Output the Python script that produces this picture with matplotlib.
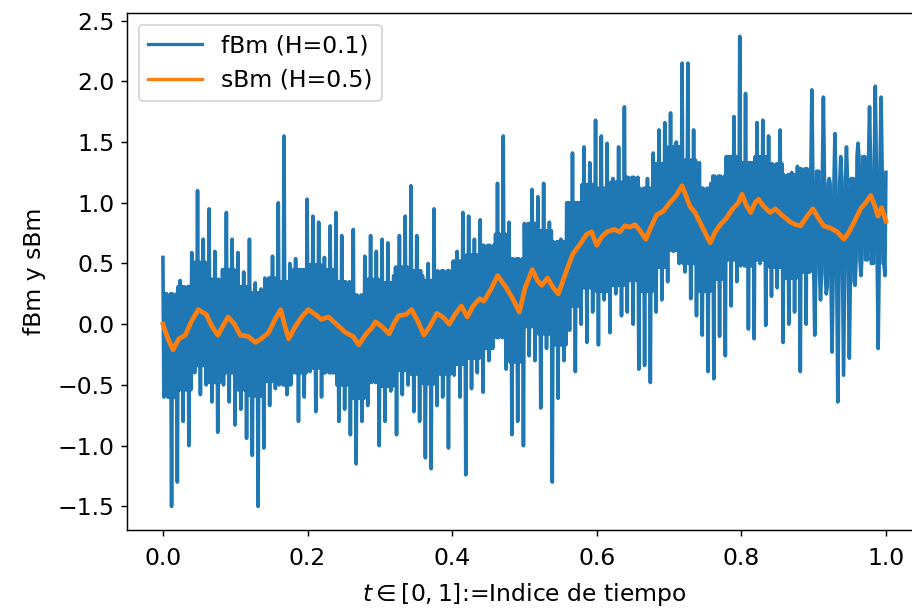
import numpy as np
import matplotlib
matplotlib.use('Agg')
import matplotlib.pyplot as plt


# fBm (H=0.1): spike extremes, alternating up / down, on a uniform grid over [0, 1]
fbm_spikes = [
    0.55, -0.5, 0.2, -1.5, 0.1, -1.3, 0.36, -0.8, 0.3, -1.0,
    0.59, -0.4, 1.1, -0.58, 0.7, -0.5, 0.95, -0.64, 0.6, -0.89,
    0.34, -0.5, 0.92, -0.64, 0.7,
    -0.83, 0.59, -0.7, 0.43, -0.94, 0.7, -1.08, 0.34, -1.5, 0.29,
    -1.02, 0.3, -0.67, 0.56, -0.53, 1.0, -0.4, 1.55, -0.58, 0.5,
    -0.26, 0.54, -0.8, 0.45, -0.6,
    1.03, -0.39, 0.89, -0.72, 0.84, -0.6, 0.55, -0.28, 0.81, -0.4,
    0.92, -0.8, 0.73, -0.7, 0.3, -0.91, 0.78, -1.15, 0.21, -0.8,
    0.56, -0.67, 0.73, -0.42, 0.6,
    -1.0, 0.7, -0.8, 0.67, -0.55, 0.4, -0.91, 0.73, -0.58, 0.89,
    -0.5, 1.14, -0.72, 0.73, -0.8, 0.4, -1.1, 0.5, -1.19, 0.95,
    -0.67, 0.4, -0.6, 0.35, -1.02,
    0.4, -0.42, 0.6, -0.6, 0.92, -1.24, 0.89, -0.53, 0.7, -0.4,
    0.86, -0.56, 0.6, -0.3, 0.5, -0.1, 1.16, 0.02, 1.55, -0.37,
    0.84, -0.91, 0.48, -0.8, 0.43,
    -1.0, 0.4, -0.26, 1.11, -0.3, 1.05, -0.69, 1.16, -0.2, 0.84,
    -1.3, 0.56, -0.61, 0.7, -0.3, 1.0, -0.05, 1.41, -0.39, 1.0,
    0.0, 1.46, -0.15, 1.33, 0.1,
    1.68, -0.17, 1.55, 0.2, 1.49, -0.07, 1.2, 0.25, 1.46, 0.07,
    1.79, 0.1, 1.19, 0.0, 1.0, -0.37, 1.1, -0.34, 1.2, -0.48,
    1.41, 0.1, 1.6, 0.2, 1.66,
    0.35, 1.74, 0.6, 1.5, 0.5, 2.15, 0.43, 2.15, 0.21, 1.6,
    0.07, 1.33, -0.09, 0.95, -0.39, 1.16, -0.45, 0.9, -0.1, 1.19,
    -0.26, 1.38, 0.15, 1.71, 0.35,
    2.37, 0.5, 1.9, -0.04, 1.33, -0.12, 1.66, 0.5, 1.68, -0.01,
    1.55, 0.23, 1.27, 0.3, 1.6, -0.15, 1.2, 0.0, 1.25, 0.1,
    1.3, -0.39, 1.2, 0.0, 1.0,
    1.93, -0.09, 1.2, 0.2, 1.87, 0.25, 1.2, -0.23, 1.57, -0.64,
    1.38, -0.42, 1.46, -0.28, 1.1, 0.32, 1.49, 0.4, 1.2, 0.59,
    1.79, 0.6, 1.96, -0.2, 1.87, 0.5,
]

# fBm dense core: upper / lower edge per block of 5 spikes (t step 0.02)
core_hi = [
    0.25, 0.31, 0.51, 0.37, 0.45, 0.31, 0.26, 0.38, 0.35, 0.45,
    0.49, 0.45, 0.35, 0.24, 0.37, 0.34, 0.47, 0.44, 0.36, 0.44,
    0.52, 0.57, 0.65, 0.74, 0.54, 0.83, 0.77, 0.68, 1.0, 1.15,
    1.12, 1.17, 1.21, 1.12, 1.32, 1.46, 1.35, 1.12, 1.22, 1.38,
    1.33, 1.38, 1.32, 1.23, 1.28, 1.26, 1.16, 1.2, 1.38, 1.35, 1.25,
]
core_lo = [
    -0.6, -0.54, -0.34, -0.48, -0.4, -0.54, -0.59, -0.47, -0.5, -0.4,
    -0.36, -0.4, -0.5, -0.61, -0.48, -0.51, -0.38, -0.41, -0.49, -0.41,
    -0.33, -0.28, -0.2, -0.11, -0.31, -0.02, -0.08, -0.17, 0.15, 0.3,
    0.27, 0.32, 0.36, 0.27, 0.47, 0.61, 0.5, 0.27, 0.37, 0.53,
    0.48, 0.53, 0.47, 0.38, 0.43, 0.41, 0.31, 0.35, 0.53, 0.5, 0.4,
]

# sBm path (H=0.5)
t_sbm = [
    0.000, 0.007, 0.014, 0.022, 0.031, 0.039, 0.049, 0.060, 0.068, 0.076,
    0.090, 0.099, 0.107, 0.118, 0.128, 0.136, 0.146, 0.156, 0.163, 0.168,
    0.174, 0.183, 0.192, 0.201, 0.211, 0.219, 0.229, 0.240, 0.253, 0.263,
    0.271, 0.281, 0.289, 0.294, 0.303, 0.313, 0.319, 0.326, 0.336, 0.344,
    0.353, 0.361, 0.369, 0.379, 0.389, 0.396, 0.404, 0.413, 0.421, 0.429,
    0.438, 0.444, 0.453, 0.463, 0.469, 0.475, 0.483, 0.493, 0.501, 0.511,
    0.518, 0.524, 0.532, 0.540, 0.547, 0.557, 0.567, 0.576, 0.586, 0.593,
    0.600, 0.607, 0.614, 0.624, 0.632, 0.639, 0.646, 0.653, 0.660, 0.668,
    0.675, 0.683, 0.692, 0.701, 0.710, 0.718, 0.724, 0.729, 0.736, 0.746,
    0.757, 0.764, 0.771, 0.779, 0.788, 0.796, 0.801, 0.807, 0.813, 0.819,
    0.824, 0.831, 0.840, 0.847, 0.856, 0.868, 0.875, 0.882, 0.890, 0.899,
    0.906, 0.914, 0.924, 0.933, 0.942, 0.949, 0.956, 0.965, 0.972, 0.979,
    0.985, 0.989, 0.994, 1.000,
]
sbm = [
    0.0, -0.12, -0.21, -0.12, -0.09, 0.02, 0.12, 0.08, -0.02, -0.09,
    0.06, 0.0, -0.09, -0.1, -0.15, -0.12, -0.07, 0.05, 0.12, 0.0,
    -0.12, -0.02, 0.06, 0.12, 0.08, 0.04, 0.06, 0.0, -0.07, -0.1,
    -0.17, -0.08, -0.03, 0.02, -0.02, -0.08, 0.0, 0.07, 0.08, 0.12,
    0.02, -0.09, -0.02, 0.09, 0.05, 0.0, 0.08, 0.15, 0.06, 0.15,
    0.21, 0.19, 0.28, 0.4, 0.35, 0.3, 0.22, 0.1, 0.3, 0.45,
    0.36, 0.32, 0.38, 0.3, 0.25, 0.42, 0.58, 0.65, 0.74, 0.76,
    0.65, 0.72, 0.76, 0.78, 0.76, 0.81, 0.8, 0.82, 0.77, 0.7,
    0.8, 0.9, 0.93, 1.0, 1.06, 1.14, 1.05, 0.97, 0.92, 0.8,
    0.67, 0.76, 0.82, 0.87, 0.95, 1.0, 1.07, 0.98, 0.92, 1.0,
    1.03, 0.97, 0.92, 0.95, 0.9, 0.84, 0.82, 0.81, 0.88, 0.95,
    0.88, 0.81, 0.79, 0.76, 0.7, 0.76, 0.84, 0.95, 1.0, 1.06,
    0.97, 0.89, 0.96, 0.85,
]


def fbm_path(spikes, hi, lo):
    # each spike is followed by two passes through the core band
    path = []
    for i, v in enumerate(spikes):
        k = i // 5
        if i % 2 == 0:
            path += [v, lo[k], hi[k]]
        else:
            path += [v, hi[k], lo[k]]
    return path


def plot_paths(t, fbm, t_sbm, sbm):
    plt.rcParams['font.size'] = 13
    fig = plt.figure(figsize=(912 / 130, 614 / 130), dpi=130)
    ax = fig.add_axes([0.139, 0.137, 0.872, 0.842])

    ax.plot(t, fbm, color='#1f77b4', lw=2.0, label='fBm (H=0.1)')
    ax.plot(t_sbm, sbm, color='#ff7f0e', lw=2.6, label='sBm (H=0.5)')

    ax.set_xticks([0.0, 0.2, 0.4, 0.6, 0.8, 1.0])
    ax.tick_params(axis='x', pad=6)
    ax.set_xlabel(r'$t\in[0,1]$:=Indice de tiempo', labelpad=6)
    ax.set_ylabel('fBm y sBm', labelpad=6)

    leg = ax.legend(loc='upper left', handlelength=2.3)
    for line in leg.get_lines():
        line.set_linewidth(1.8)

    fig.savefig('out.png', dpi=130)


def main():
    fbm = fbm_path(fbm_spikes, core_hi, core_lo)
    t = np.linspace(0, 1, len(fbm))
    plot_paths(t, fbm, t_sbm, sbm)


if __name__ == '__main__':
    main()
